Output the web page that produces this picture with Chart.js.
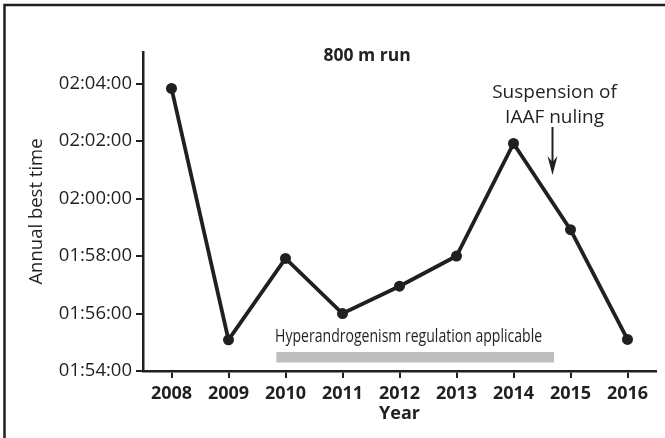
<!DOCTYPE html>
<html><head><meta charset="utf-8">
<script src="https://cdn.jsdelivr.net/npm/chart.js@4"></script>
<style>html,body{margin:0;padding:0;background:#fff}#wrap{width:665px;height:438px}</style>
</head><body><div id="wrap"><canvas id="c" width="665" height="438"></canvas></div>
<script>
// ---- data ----
const years = ['2008','2009','2010','2011','2012','2013','2014','2015','2016'];
// annual best time, in seconds (01:55:05 = 6905)
const bestTimesSec = [7430, 6905, 7075, 6960, 7017, 7080, 7315, 7135, 6906];
const yMinSec = 6840;   // 01:54:00
const yMaxSec = 7506;
const yStepSec = 120;
const chartTitle = '800 m run';
const xTitle = 'Year';
const yTitle = 'Annual best time';
const noteLines = ['Suspension of', 'IAAF nuling'];
const regulationLabel = 'Hyperandrogenism regulation applicable';
const regulationSpan = [1.84, 6.71];   // in category index units
const arrowYear = 6.67;                // category index of the arrow

const INK = '#231f20';
const FONT = "'Open Sans', 'DejaVu Sans', sans-serif";

function fmt(sec){
  const h = Math.floor(sec/3600), m = Math.floor((sec%3600)/60), s = Math.round(sec%60);
  const p = n => String(n).padStart(2,'0');
  return p(h)+':'+p(m)+':'+p(s);
}

const annot = {
  id: 'annot',
  beforeDraw(chart){
    const ctx = chart.ctx;
    ctx.save();
    ctx.fillStyle = '#fff';
    ctx.fillRect(0,0,chart.width,chart.height);
    ctx.restore();
  },
  afterDraw(chart){
    const ctx = chart.ctx, xs = chart.scales.x, ys = chart.scales.y, ca = chart.chartArea;
    ctx.save();
    // outer frame (top + left)
    ctx.strokeStyle = INK; ctx.lineWidth = 2.5;
    ctx.beginPath(); ctx.moveTo(4.5, chart.height); ctx.lineTo(4.5, 5); ctx.lineTo(chart.width, 5); ctx.stroke();
    // title
    ctx.fillStyle = INK;
    ctx.font = "bold 17.5px " + FONT;
    ctx.textAlign = 'center'; ctx.textBaseline = 'middle';
    ctx.fillText(chartTitle, xs.getPixelForValue(3.43), ca.top + 4);
    // note
    ctx.font = "19px " + FONT;
    const nx = xs.getPixelForValue(6.72);
    ctx.fillText(noteLines[0], nx, ca.top + 41);
    ctx.fillText(noteLines[1], nx, ca.top + 66);
    // arrow
    const ax = Math.round(xs.getPixelForValue(arrowYear)) + 0.5;
    const aTop = ca.top + 75, aTip = ca.top + 123;
    ctx.strokeStyle = INK; ctx.lineWidth = 2;
    ctx.beginPath(); ctx.moveTo(ax, aTop); ctx.lineTo(ax, aTip - 12); ctx.stroke();
    ctx.beginPath(); ctx.moveTo(ax - 5, aTip - 19); ctx.lineTo(ax, aTip); ctx.lineTo(ax + 5, aTip - 19); ctx.lineTo(ax, aTip - 13); ctx.closePath(); ctx.fill();
    // regulation bar
    const bx0 = xs.getPixelForValue(regulationSpan[0]), bx1 = xs.getPixelForValue(regulationSpan[1]);
    ctx.fillStyle = '#bcbec0';
    ctx.fillRect(bx0, ca.bottom - 19, bx1 - bx0, 10.5);
    // regulation label (condensed)
    ctx.fillStyle = INK;
    ctx.font = "18px " + FONT;
    const w = ctx.measureText(regulationLabel).width;
    const target = 267;
    const cx = xs.getPixelForValue(4.16);
    ctx.translate(cx, ca.bottom - 34);
    ctx.scale(target / w, 1);
    ctx.textAlign = 'center'; ctx.textBaseline = 'middle';
    ctx.fillText(regulationLabel, 0, 0);
    ctx.restore();
  }
};

new Chart(document.getElementById('c'), {
  type: 'line',
  data: {
    labels: years,
    datasets: [{
      data: bestTimesSec,
      borderColor: INK,
      backgroundColor: INK,
      borderWidth: 3.8,
      pointRadius: 5.5,
      pointBackgroundColor: INK,
      pointBorderWidth: 0,
      tension: 0,
      fill: false
    }]
  },
  options: {
    responsive: false,
    animation: false,
    devicePixelRatio: 1,
    layout: { padding: { left: 0, top: 52, right: 9, bottom: 0 } },
    plugins: { legend: { display: false }, tooltip: { enabled: false }, title: { display: false } },
    scales: {
      x: {
        type: 'category',
        offset: true,
        grid: { display: true, drawOnChartArea: false, drawTicks: true, tickLength: 7, color: INK, lineWidth: 2 },
        border: { display: true, color: INK, width: 2.5 },
        ticks: { color: INK, font: { family: FONT, size: 18, weight: 'bold' }, padding: 5, maxRotation: 0, autoSkip: false },
        title: { display: true, text: xTitle, color: INK, font: { family: FONT, size: 18, weight: 'bold' }, padding: { top: 0, bottom: 13 } },
        afterFit: s => { s.height = 67; }
      },
      y: {
        min: yMinSec,
        max: yMaxSec,
        grid: { display: true, drawOnChartArea: false, drawTicks: true, tickLength: 7, color: INK, lineWidth: 2 },
        border: { display: true, color: INK, width: 2.5 },
        ticks: { stepSize: yStepSec, includeBounds: false, color: INK, font: { family: FONT, size: 18.5 }, padding: 4, callback: v => fmt(v) },
        title: { display: true, text: yTitle, color: INK, font: { family: FONT, size: 18.5 }, padding: { top: 26, bottom: 0 } },
        afterFit: s => { s.width = 143; }
      }
    }
  },
  plugins: [annot]
});
</script>
</body></html>
